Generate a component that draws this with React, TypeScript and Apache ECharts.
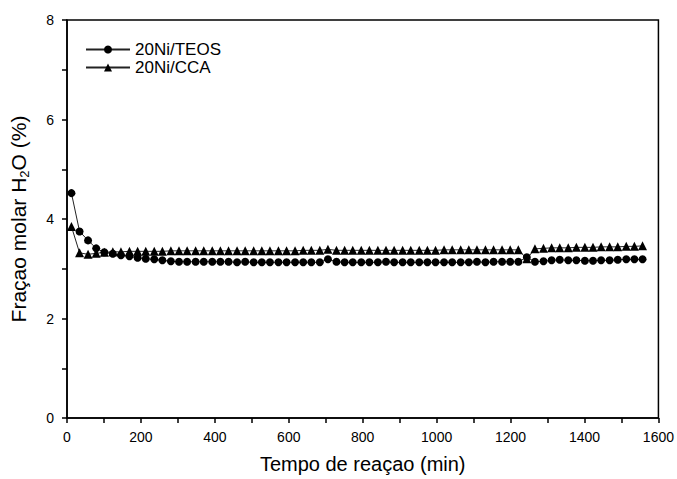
import React, { useEffect, useRef } from "react";
import * as echarts from "echarts";

const times = [12, 34, 57, 79, 101, 124, 146, 169, 191, 213, 236, 258, 281, 303, 325, 348, 370, 393, 415, 437, 460, 482, 505, 527, 549, 572, 594, 617, 639, 661, 684, 706, 729, 751, 773, 796, 818, 841, 863, 885, 908, 930, 953, 975, 997, 1020, 1042, 1065, 1087, 1109, 1132, 1154, 1177, 1199, 1221, 1244, 1266, 1289, 1311, 1333, 1356, 1378, 1401, 1423, 1445, 1468, 1490, 1513, 1535, 1557];

const teos = [4.52, 3.75, 3.57, 3.41, 3.33, 3.3, 3.27, 3.25, 3.22, 3.2, 3.19, 3.17, 3.15, 3.14, 3.14, 3.14, 3.14, 3.14, 3.14, 3.14, 3.13, 3.14, 3.13, 3.13, 3.13, 3.13, 3.13, 3.13, 3.13, 3.13, 3.13, 3.19, 3.14, 3.13, 3.13, 3.13, 3.13, 3.13, 3.14, 3.13, 3.13, 3.13, 3.13, 3.13, 3.13, 3.13, 3.13, 3.13, 3.13, 3.14, 3.13, 3.14, 3.14, 3.14, 3.14, 3.23, 3.14, 3.15, 3.17, 3.18, 3.17, 3.17, 3.16, 3.16, 3.17, 3.17, 3.18, 3.19, 3.19, 3.19];

const cca = [3.85, 3.32, 3.29, 3.31, 3.33, 3.34, 3.34, 3.35, 3.35, 3.35, 3.35, 3.35, 3.36, 3.36, 3.36, 3.36, 3.36, 3.36, 3.36, 3.36, 3.36, 3.36, 3.36, 3.36, 3.36, 3.36, 3.36, 3.36, 3.37, 3.37, 3.37, 3.39, 3.37, 3.37, 3.37, 3.37, 3.37, 3.37, 3.37, 3.37, 3.37, 3.37, 3.37, 3.37, 3.37, 3.38, 3.38, 3.38, 3.38, 3.38, 3.38, 3.38, 3.38, 3.38, 3.38, 3.2, 3.4, 3.41, 3.42, 3.42, 3.42, 3.43, 3.43, 3.43, 3.44, 3.44, 3.44, 3.45, 3.45, 3.46];

const seriesNames = ["20Ni/TEOS", "20Ni/CCA"];
const xTitle = "Tempo de reaçao (min)";
const yTitle = "Fraçao molar H{sub|2}O (%)";

export default function App() {
  const ref = useRef<HTMLDivElement>(null);
  useEffect(() => {
    if (!ref.current) return;
    const chart = echarts.init(ref.current, null, { renderer: "svg" });
    const font = "'Liberation Sans', Arial, sans-serif";
    chart.setOption({
      animation: false,
      backgroundColor: "#fff",
      textStyle: { fontFamily: font },
      grid: {
        left: 67,
        right: 10,
        top: 20,
        bottom: 56,
        show: true,
        borderColor: "#000",
        borderWidth: 1.5,
      },
      legend: {
        orient: "vertical",
        left: 80,
        top: 36,
        itemWidth: 44,
        itemHeight: 10,
        itemGap: 1,
        textStyle: { fontSize: 17, lineHeight: 17, color: "#000", fontFamily: font },
        data: seriesNames,
      },
      xAxis: {
        type: "value",
        min: 0,
        max: 1600,
        interval: 200,
        name: xTitle,
        nameLocation: "middle",
        nameGap: 36,
        nameTextStyle: { fontSize: 20, color: "#000", fontFamily: font },
        axisLine: { lineStyle: { color: "#000", width: 1.5 } },
        axisTick: { inside: false, length: 5, lineStyle: { color: "#000", width: 1.5 } },
        minorTick: { show: true, splitNumber: 2, length: 5, lineStyle: { color: "#000", width: 1.5 } },
        axisLabel: {
          fontSize: 14,
          color: "#000",
          margin: 12,
          fontFamily: font,
          formatter: (v: number) => String(v),
          showMaxLabel: true,
        },
        splitLine: { show: false },
      },
      yAxis: {
        type: "value",
        min: 0,
        max: 8,
        interval: 2,
        name: yTitle,
        nameLocation: "middle",
        nameGap: 36,
        nameTextStyle: {
          fontSize: 21,
          color: "#000",
          fontFamily: font,
          rich: { sub: { fontSize: 13, padding: [12, 0, 0, 0], fontFamily: font, color: "#000" } },
        },
        axisLine: { lineStyle: { color: "#000", width: 1.5 } },
        axisTick: { inside: false, length: 5, lineStyle: { color: "#000", width: 1.5 } },
        minorTick: { show: true, splitNumber: 2, length: 5, lineStyle: { color: "#000", width: 1.5 } },
        axisLabel: { fontSize: 14, color: "#000", margin: 13, fontFamily: font },
        splitLine: { show: false },
      },
      series: [
        {
          name: seriesNames[0],
          type: "line",
          data: times.map((t, i) => [t, teos[i]]),
          symbol: "circle",
          symbolSize: 8,
          itemStyle: { color: "#000" },
          lineStyle: { color: "#222", width: 1 },
        },
        {
          name: seriesNames[1],
          type: "line",
          data: times.map((t, i) => [t, cca[i]]),
          symbol: "triangle",
          symbolSize: 9,
          itemStyle: { color: "#000" },
          lineStyle: { color: "#222", width: 1 },
        },
      ],
    });
    return () => chart.dispose();
  }, []);
  return (
    <div
      ref={ref}
      style={{ position: "fixed", left: 0, top: 0, width: 677, height: 479 }}
    />
  );
}
